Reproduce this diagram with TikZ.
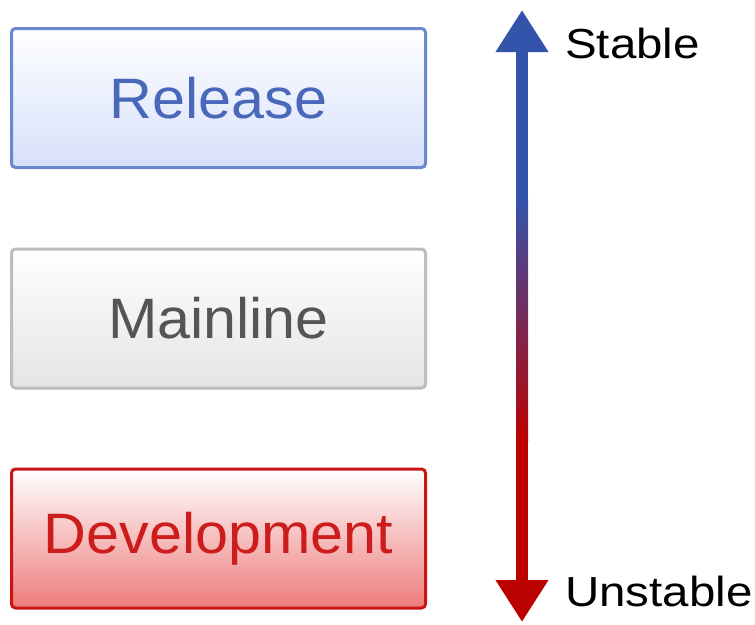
\documentclass[tikz,border=0pt]{standalone}
\usepackage{fontspec}
\setmainfont{Liberation Sans}
\newfontfamily\boxfont[FakeStretch=1.04]{Liberation Sans}
\newfontfamily\scalefont[FakeStretch=1.13]{Liberation Sans}
\usetikzlibrary{arrows.meta}

\definecolor{relline}{HTML}{6A87D2}
\definecolor{reltext}{HTML}{4A68BA}
\definecolor{relfill}{HTML}{D6E0FA}
\definecolor{mainline}{HTML}{BDBDBD}
\definecolor{maintext}{HTML}{555555}
\definecolor{mainfill}{HTML}{E4E4E4}
\definecolor{devline}{HTML}{CC1414}
\definecolor{devtext}{HTML}{CC1C1C}
\definecolor{devfill}{HTML}{EE7C7C}
\definecolor{stableblue}{HTML}{3454AC}
\definecolor{unstablered}{HTML}{BB0000}

\tikzset{
    levelbox/.style={draw, line width=3pt, rounded corners=4pt, minimum width=414pt, minimum height=139pt, inner sep=0pt, font=\boxfont\fontsize{57}{60}\selectfont},
    scalearrow/.style={line width=12pt, -{Triangle[width=50pt,length=42pt]}},
    scalelabel/.style={anchor=base west, inner sep=0pt, font=\scalefont\fontsize{42}{46}\selectfont}
}

\begin{document}
\begin{tikzpicture}[x=1pt,y=-1pt]
    \useasboundingbox (0,0) rectangle (755,624);

    % branch levels
    \node[levelbox, color=relline, text=reltext, top color=white, bottom color=relfill] (release) at (218.5,98) {Release};
    \node[levelbox, color=mainline, text=maintext, top color=white, bottom color=mainfill] (mainline) at (218.5,318.5) {Mainline};
    \node[levelbox, color=devline, text=devtext, top color=white, bottom color=devfill] (development) at (218.5,538.5) {Development};

    % stability scale
    \coordinate (top) at (522,10);
    \coordinate (upper) at (522,200);
    \coordinate (lower) at (522,440);
    \coordinate (bottom) at (522,622);

    \draw[scalearrow, stableblue] (upper) -- (top);
    \draw[scalearrow, unstablered] (lower) -- (bottom);
    \shade[top color=stableblue, bottom color=unstablered] (516,199) rectangle (528,441);

    \node[scalelabel] (stable) at (565,58) {Stable};
    \node[scalelabel] (unstable) at (565,606) {Unstable};
\end{tikzpicture}
\end{document}
